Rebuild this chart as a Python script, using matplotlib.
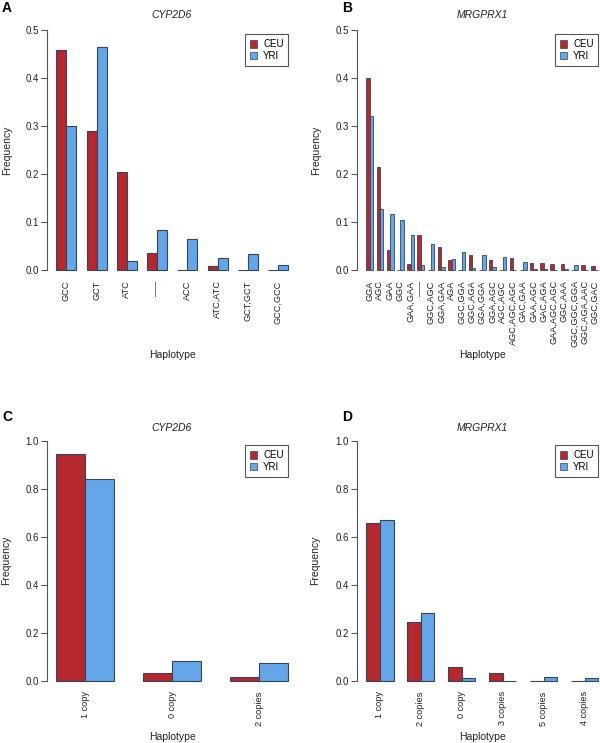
import matplotlib
matplotlib.use("Agg")
import matplotlib.pyplot as plt
import numpy as np
from matplotlib.patches import Patch

plt.rcParams['font.family'] = ['Liberation Sans', 'DejaVu Sans']

# ---------------- data ----------------
hapA = ["GCC", "GCT", "ATC", "–––", "ACC", "ATC,ATC", "GCT,GCT", "GCC,GCC"]
ceuA = [0.458, 0.289, 0.204, 0.035, 0.0, 0.009, 0.0, 0.0]
yriA = [0.300, 0.465, 0.018, 0.083, 0.065, 0.026, 0.033, 0.010]

hapB = ["GGA", "AGC", "GAA", "GGC", "GAA,GAA", "–––", "GGC,AGC", "GGA,GAA", "AGA",
        "GGC,GGA", "GGC,AGA", "GGA,GGA", "GGA,AGC", "AGC,AGC", "AGC,AGC,AGC",
        "GAC,GAA", "GAA,AGC", "GAC,AGA", "GAA,AGC,AGC", "GGC,AAA",
        "GGC,GGC,GGA", "GGC,AGA,AAC", "GGC,GAC"]
ceuB = [0.400, 0.215, 0.042, 0.0, 0.012, 0.073, 0.0, 0.048, 0.021,
        0.0, 0.031, 0.0, 0.021, 0.0, 0.026,
        0.0, 0.015, 0.014, 0.013, 0.012,
        0.0, 0.010, 0.009]
yriB = [0.320, 0.128, 0.117, 0.105, 0.073, 0.011, 0.054, 0.006, 0.023,
        0.038, 0.004, 0.031, 0.006, 0.027, 0.0,
        0.017, 0.002, 0.002, 0.001, 0.002,
        0.011, 0.001, 0.0]

copC = ["1 copy", "0 copy", "2 copies"]
ceuC = [0.947, 0.035, 0.018]
yriC = [0.842, 0.085, 0.075]

copD = ["1 copy", "2 copies", "0 copy", "3 copies", "5 copies", "4 copies"]
ceuD = [0.660, 0.245, 0.058, 0.035, 0.0, 0.0]
yriD = [0.670, 0.285, 0.012, 0.0, 0.018, 0.014]

genes = ["CYP2D6", "MRGPRX1", "CYP2D6", "MRGPRX1"]
letters = ["A", "B", "C", "D"]

RED = "#B4282E"
BLUE = "#64A6E8"
EDGE = "#34465A"

W, H = 600, 743
fig = plt.figure(figsize=(W / 100, H / 100), dpi=100)


def px_axes(x0, x1, y0, y1):
    # pixel coords (top-left origin) -> figure fraction
    return fig.add_axes([x0 / W, 1 - y1 / H, (x1 - x0) / W, (y1 - y0) / H])


def ftext(x, y, s, **kw):
    fig.text(x / W, 1 - y / H, s, **kw)


def panel(x0, ytop0, ytop1, cats, ceu, yri, ymax, yticks, lw):
    n = len(cats)
    total = 3 * n
    pad = 0.04 * (total - 1)
    xl = (1 - pad, total + pad)
    yl = (-0.04 * ymax, ymax * 1.04)
    ppu = (ytop1 - ytop0) / ymax
    ya = ytop0 - 0.04 * ymax * ppu
    yb = ytop1 + 0.04 * ymax * ppu
    ax = px_axes(x0, x0 + 250.5, ya, yb)
    ax.set_xlim(*xl)
    ax.set_ylim(*yl)
    idx = np.arange(n)
    left_red = 1 + 3 * idx
    ax.bar(left_red, ceu, width=1, align='edge', color=RED, edgecolor=EDGE, linewidth=lw)
    ax.bar(left_red + 1, yri, width=1, align='edge', color=BLUE, edgecolor=EDGE, linewidth=lw)
    for s in ['top', 'right', 'bottom']:
        ax.spines[s].set_visible(False)
    ax.spines['left'].set_bounds(0, ymax)
    ax.spines['left'].set_color('#555555')
    ax.spines['left'].set_linewidth(0.8)
    ax.set_yticks(yticks)
    ax.set_yticklabels([f"{t:.1f}" for t in yticks], fontsize=7, color='#222222')
    ax.tick_params(axis='y', length=4, width=0.8, color='#555555', pad=2)
    ax.set_xticks(left_red + 1)
    ax.set_xticklabels(cats, rotation=90, fontsize=6.6, color='#222222', va='top')
    ax.tick_params(axis='x', length=0, pad=0.5)
    leg = ax.legend(handles=[Patch(facecolor=RED, edgecolor=EDGE, linewidth=0.5),
                             Patch(facecolor=BLUE, edgecolor=EDGE, linewidth=0.5)],
                    labels=["CEU", "YRI"], loc='upper right',
                    bbox_to_anchor=(0.964, 0.946), fontsize=7, fancybox=False,
                    edgecolor='#555555', framealpha=1, handlelength=0.8, handleheight=0.8,
                    handletextpad=0.6, borderpad=0.5, labelspacing=0.15, borderaxespad=0)
    leg.get_frame().set_linewidth(0.8)
    return ax


axA = panel(47, 30, 270, hapA, ceuA, yriA, 0.5, [0.0, 0.1, 0.2, 0.3, 0.4, 0.5], 0.8)
axB = panel(357, 30, 270, hapB, ceuB, yriB, 0.5, [0.0, 0.1, 0.2, 0.3, 0.4, 0.5], 0.6)
axC = panel(47, 441, 681, copC, ceuC, yriC, 1.0, [0.0, 0.2, 0.4, 0.6, 0.8, 1.0], 0.8)
axD = panel(357, 441, 681, copD, ceuD, yriD, 1.0, [0.0, 0.2, 0.4, 0.6, 0.8, 1.0], 0.8)

# titles
for (x, y), g in zip([(172, 15), (482, 15), (172, 428), (482, 428)], genes):
    ftext(x, y, g, fontsize=7.5, style='italic', ha='center', va='center', color='#222222')

# panel letters
for (x, y), L in zip([(2, 8), (342, 8), (2, 417), (342, 417)], letters):
    ftext(x, y, L, fontsize=10, fontweight='bold', va='center', ha='left')

# axis labels
for (x, y) in [(172, 355), (482, 355), (172, 737), (482, 737)]:
    ftext(x, y, "Haplotype", fontsize=7.5, ha='center', va='center', color='#222222')
for (x, y) in [(7, 150), (316, 150), (6, 560), (315, 560)]:
    ftext(x, y, "Frequency", fontsize=7.5, ha='center', va='center', rotation=90, color='#222222')

fig.savefig("out.png", dpi=100)
